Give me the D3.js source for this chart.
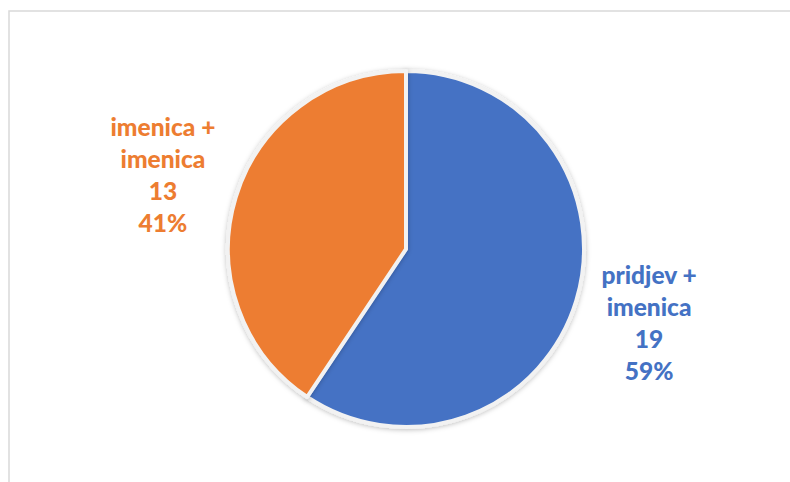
<html>
<head>
<script src="https://d3js.org/d3.v7.min.js"></script>
<style>
  body { margin: 0; background: #fff; }
  text { font-family: Lato, "Open Sans", sans-serif; font-weight: bold; }
</style>
</head>
<body>
<svg width="790" height="482"></svg>
<script>
// chart data
var categories = ["pridjev +|imenica", "imenica +|imenica"];
var counts = [19, 13];
var percents = ["59%", "41%"];
var colors = ["#4472C4", "#ED7D31"];

var svg = d3.select("svg");

// chart area border
svg.append("rect")
    .attr("x", 9).attr("y", 11)
    .attr("width", 800).attr("height", 500)
    .attr("fill", "none")
    .attr("stroke", "#d9d9d9")
    .attr("stroke-width", 1.5);

var defs = svg.append("defs");
var f = defs.append("filter").attr("id", "shadow")
    .attr("x", "-20%").attr("y", "-20%").attr("width", "140%").attr("height", "140%");
f.append("feDropShadow")
    .attr("dx", 0).attr("dy", 1)
    .attr("stdDeviation", 2.5)
    .attr("flood-color", "#000")
    .attr("flood-opacity", 0.25);

var cx = 406, cy = 249, radius = 178;

var data = categories.map(function(c, i) {
    return {name: c, value: counts[i], pct: percents[i], color: colors[i]};
});

var pie = d3.pie().sort(null).value(function(d) { return d.value; });
var arc = d3.arc().innerRadius(0).outerRadius(radius);
var labelArc = d3.arc().innerRadius(254).outerRadius(254);

var g = svg.append("g").attr("transform", "translate(" + cx + "," + cy + ")");

g.selectAll("path.slice").data(pie(data))
    .enter().append("path")
        .attr("class", "slice")
        .attr("d", arc)
        .attr("fill", function(d) { return d.data.color; })
        .attr("stroke", "#f2f2f2")
        .attr("stroke-width", 4)
        .attr("stroke-linejoin", "round")
        .style("filter", "url(#shadow)");

var lineH = 32;
var labels = g.selectAll("text.lbl").data(pie(data))
    .enter().append("text")
        .attr("class", "lbl")
        .attr("text-anchor", "middle")
        .style("font-size", "24.5px")
        .style("font-weight", "900")
        .attr("fill", function(d) { return d.data.color; })
        .attr("transform", function(d) {
            var c = labelArc.centroid(d);
            return "translate(" + c[0] + "," + c[1] + ")";
        });

labels.each(function(d) {
    var lines = d.data.name.split("|").concat([String(d.data.value), d.data.pct]);
    var t = d3.select(this);
    lines.forEach(function(l, i) {
        t.append("tspan")
            .attr("x", 0)
            .attr("y", (i - (lines.length - 1) / 2) * lineH + 9)
            .text(l);
    });
});
</script>
</body>
</html>
